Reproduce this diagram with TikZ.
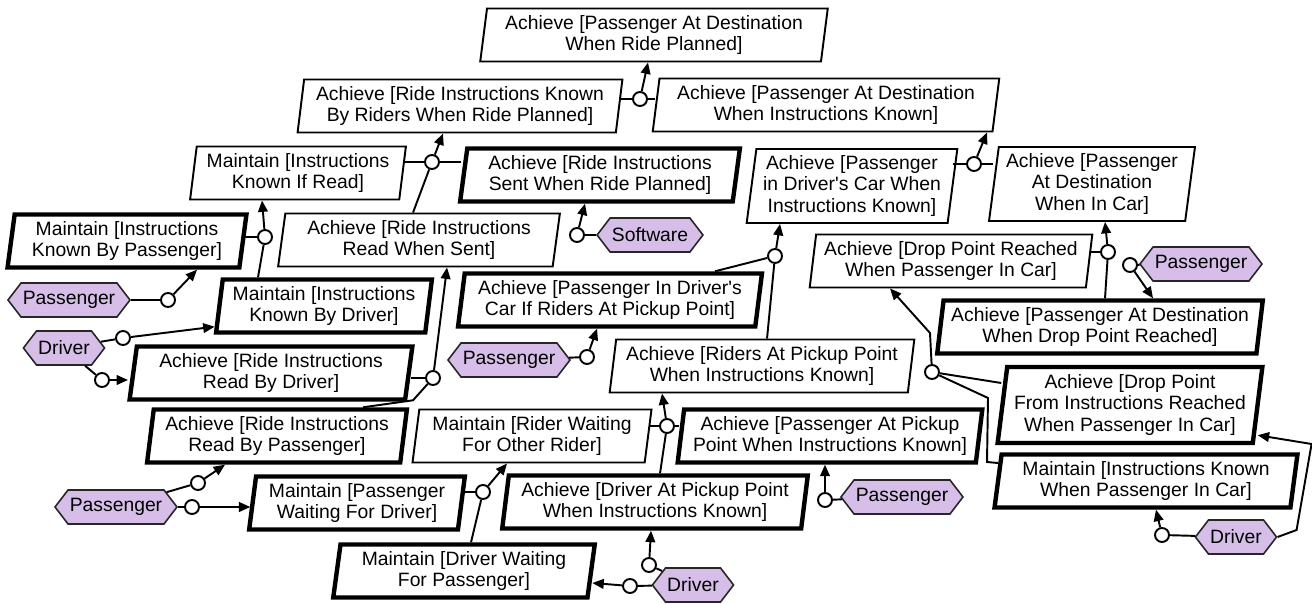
\documentclass[tikz,border=0pt]{standalone}
\usepackage{fontspec}
\setmainfont{Liberation Sans}
\usetikzlibrary{shapes.geometric,shapes.symbols,arrows.meta,calc}

\definecolor{agentfill}{RGB}{215,190,232}

\begin{document}
\begin{tikzpicture}[x=0.02cm, y=-0.02cm,
  wd/.style={minimum width=#1*0.02cm},
  ht/.style={minimum height=#1*0.02cm},
  goal/.style={trapezium, trapezium left angle=82, trapezium right angle=98,
    trapezium stretches=true, draw, fill=white, line width=1.1pt, ht=53,
    inner sep=1pt, align=center, font=\fontsize{11}{12.5}\selectfont},
  req/.style={goal, line width=2.5pt},
  agent/.style={signal, signal to=east and west, signal pointer angle=105,
    draw=black!85, line width=0.9pt, fill=agentfill, ht=34, inner xsep=1pt,
    font=\fontsize{11}{12.5}\selectfont},
  refine/.style={circle, draw, fill=white, line width=1.1pt,
    minimum size=0.28cm, inner sep=0pt},
  link/.style={line width=1.1pt},
  arr/.style={link, -{Triangle[length=6.5pt,width=5.5pt]}}]

\useasboundingbox (0,0) rectangle (1312,604);

\node[goal, wd=348] (G_0)  at ( 654, 35) {Achieve [Passenger At Destination\\When Ride Planned]};
\node[goal, wd=325] (G_1)  at ( 460,106) {Achieve [Ride Instructions Known\\By Riders When Ride Planned]};
\node[goal, wd=347] (G_2)  at ( 826,105) {Achieve [Passenger At Destination\\When Instructions Known]};
\node[goal, wd=216] (G_3)  at ( 298,173) {Maintain [Instructions\\Known If Read]};
\node[req,  wd=280] (G_4)  at ( 600,175) {Achieve [Ride Instructions\\Sent When Ride Planned]};
\node[goal, wd=282] (G_5)  at ( 419,240) {Achieve [Ride Instructions\\Read When Sent]};
\node[req,  wd=239] (G_6)  at ( 127,241) {Maintain [Instructions\\Known By Passenger]};
\node[req,  wd=216] (G_7)  at ( 324,306) {Maintain [Instructions\\Known By Driver]};
\node[req,  wd=283] (G_8)  at ( 271,373) {Achieve [Ride Instructions\\Read By Driver]};
\node[req,  wd=260] (G_9)  at ( 277,436) {Achieve [Ride Instructions\\Read By Passenger]};
\node[req,  wd=216] (G_10) at ( 357,503) {Maintain [Passenger\\Waiting For Driver]};
\node[req,  wd=262] (G_11) at ( 464,571) {Maintain [Driver Waiting\\For Passenger]};
\node[goal, wd=239] (G_12) at ( 532,436) {Maintain [Rider Waiting\\For Other Rider]};
\node[goal, wd=305] (G_13) at ( 762,366) {Achieve [Riders At Pickup Point\\When Instructions Known]};
\node[req,  wd=305] (G_14) at ( 830,436) {Achieve [Passenger At Pickup\\Point When Instructions Known]};
\node[req,  wd=306] (G_15) at ( 655,502) {Achieve [Driver At Pickup Point\\When Instructions Known]};
\node[req,  wd=304] (G_16) at ( 610,300) {Achieve [Passenger In Driver\textquotesingle s\\Car If Riders At Pickup Point]};
\node[goal, wd=211, ht=74] (G_17) at ( 852,186) {Achieve [Passenger\\in Driver\textquotesingle s Car When\\Instructions Known]};
\node[goal, wd=206, ht=74] (G_18) at (1092,184) {Achieve [Passenger\\At Destination\\When In Car]};
\node[goal, wd=283] (G_19) at ( 951,261) {Achieve [Drop Point Reached\\When Passenger In Car]};
\node[req,  wd=326] (G_20) at (1100,327) {Achieve [Passenger At Destination\\When Drop Point Reached]};
\node[req,  wd=265, ht=76] (G_21) at (1130,405) {Achieve [Drop Point\\From Instructions Reached\\When Passenger In Car]};
\node[req,  wd=303] (G_22) at (1146,481) {Maintain [Instructions Known\\When Passenger In Car]};

\node[agent] (A_0) at ( 650,235) {Software};
\node[agent] (A_1) at (  69,300) {Passenger};
\node[agent] (A_2) at (  64,348) {Driver};
\node[agent] (A_3) at ( 116,507) {Passenger};
\node[agent] (A_4) at ( 509,360) {Passenger};
\node[agent] (A_5) at ( 902,497) {Passenger};
\node[agent] (A_6) at ( 693,585) {Driver};
\node[agent] (A_7) at (1201,264) {Passenger};
\node[agent] (A_8) at (1236,537) {Driver};

\begin{scope}[refine]
  \node[refine] (R_0) at ( 640, 99) {};
  \node[refine] (R_1) at ( 432,162) {};
  \node[refine] (R_2) at ( 265,237) {};
  \node[refine] (R_3) at ( 433,378) {};
  \node[refine] (R_4) at ( 483,492) {};
  \node[refine] (R_5) at ( 667,426) {};
  \node[refine] (R_6) at ( 775,256) {};
  \node[refine] (R_7) at ( 974,164) {};
  \node[refine] (R_8) at (1108,252) {};
  \node[refine] (R_9) at ( 932,372) {};
\end{scope}

\begin{scope}[refine]
  \node[refine] (S_0)  at ( 577,235) {};
  \node[refine] (S_1)  at ( 168,300) {};
  \node[refine] (S_2)  at ( 123,338) {};
  \node[refine] (S_3)  at ( 102,380) {};
  \node[refine] (S_4)  at ( 198,483) {};
  \node[refine] (S_5)  at ( 192,507) {};
  \node[refine] (S_6)  at ( 587,357) {};
  \node[refine] (S_7)  at ( 825,500) {};
  \node[refine] (S_8)  at ( 649,565) {};
  \node[refine] (S_9)  at ( 630,586) {};
  \node[refine] (S_10) at (1130,265) {};
  \node[refine] (S_11) at (1162,535) {};
\end{scope}

% refinements
\begin{scope}[link]
\draw[arr] (R_0) -- ($(G_0.south)+(-6,0)$);
\draw (G_1.east |- R_0) -- (R_0);
\draw (G_2.west |- R_0) -- (R_0);

\draw[arr] (R_1) -- ($(G_1.south)+(-17,0)$);
\draw (G_3.east |- R_1) -- (R_1);
\draw (G_4.west |- R_1) -- (R_1);
\draw ($(G_5.north)+(-6,0)$) -- (R_1);

\draw[arr] (R_2) -- ($(G_3.south)+(-36,0)$);
\draw (G_6.east |- R_2) -- (R_2);
\draw ($(G_7.north)+(-66,0)$) -- (R_2);

\draw[arr] (R_3) -- ($(G_5.south)+(28,0)$);
\draw (G_8.east |- R_3) -- (R_3);
\draw ($(G_9.north)+(86,0)$) -- ++(50,-7) -- (R_3);

\draw[arr] (R_4) -- ($(G_12.south)+(-25,0)$);
\draw (G_10.east |- R_4) -- (R_4);
\draw ($(G_11.north)+(7,0)$) -- (R_4);

\draw[arr] (R_5) -- ($(G_13.south)+(-100,0)$);
\draw (G_12.east |- R_5) -- (R_5);
\draw (G_14.west |- R_5) -- (R_5);
\draw ($(G_15.north)+(5,0)$) -- (R_5);

\draw[arr] (R_6) -- ($(G_17.south)+(-72,0)$);
\draw ($(G_16.north)+(105,0)$) -- (R_6);
\draw ($(G_13.north)+(5,0)$) -- (R_6);

\draw[arr] (R_7) -- ($(G_2.south)+(161,0)$);
\draw (G_17.east |- R_7) -- (R_7);
\draw (G_18.west |- R_7) -- (R_7);

\draw[arr] (R_8) -- ($(G_18.south)+(13,0)$);
\draw (G_19.east |- R_8) -- (R_8);
\draw ($(G_20.north)+(5,0)$) -- (R_8);

\draw[arr] (R_9) -- ++(-2,-39) -- ($(G_19.south)+(-61,0)$);
\draw ($(G_21.west)+(1,-22)$) -- (R_9);
\draw (R_9) -- ++(56,26) -- ++(-1,64) -- ($(G_22.west)+(2,-18)$);
\end{scope}

% assignments
\begin{scope}[link]
\draw (A_0) -- (S_0);
\draw[arr] (S_0) -- ($(G_4.south)+(-15,0)$);
\draw (A_1) -- (S_1);
\draw[arr] (S_1) -- ($(G_6.south)+(70,0)$);
\draw (A_2) -- (S_2);
\draw[arr] (S_2) -- ($(G_7.bottom left corner)+(1,-8)$);
\draw (A_2) -- (S_3);
\draw[arr] (S_3) -- ($(G_8.west)+(-3,7)$);
\draw (A_3) -- (S_4);
\draw[arr] (S_4) -- ($(G_9.south)+(-52,0)$);
\draw (A_3) -- (S_5);
\draw[arr] (S_5) -- (G_10.west |- S_5);
\draw (A_4) -- (S_6);
\draw[arr] (S_6) -- ($(G_16.south)+(-13,0)$);
\draw (A_5) -- (S_7);
\draw[arr] (S_7) -- (S_7 |- G_14.south);
\draw (A_6) -- (S_8);
\draw[arr] (S_8) -- ($(G_15.south)+(-4,0)$);
\draw (A_6) -- (S_9);
\draw[arr] (S_9) -- ($(G_11.east)+(-1,12)$);
\draw (A_7) -- (S_10);
\draw[arr] (S_10) -- ($(G_20.north)+(53,0)$);
\draw (A_8) -- (S_11);
\draw[arr] (S_11) -- ($(G_22.south)+(10,0)$);
\draw[arr] (A_8.east) -- ++(19,-7) -- ++(15,-86) -- ($(G_21.bottom right corner)+(3,-10)$);
\end{scope}

\end{tikzpicture}
\end{document}
